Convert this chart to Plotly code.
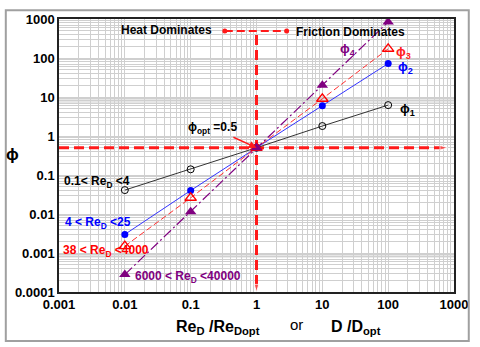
import numpy as np
import plotly.graph_objects as go

# ---------------- data ----------------
x_ratio = [0.01, 0.1, 1, 10, 100]
phi1 = [0.041, 0.14, 0.5, 1.8, 6.2]
phi2 = [0.003, 0.04, 0.5, 6.0, 72]
phi3 = [0.0015, 0.026, 0.5, 9.0, 172]
phi4 = [0.00028, 0.0115, 0.5, 20, 840]

x_ticks = [0.001, 0.01, 0.1, 1, 10, 100, 1000]
x_ticklabels = ["0.001", "0.01", "0.1", "1", "10", "100", "1000"]
y_ticks = [0.0001, 0.001, 0.01, 0.1, 1, 10, 100, 1000]
y_ticklabels = ["0.0001", "0.001", "0.01", "0.1", "1", "10", "100", "1000"]

phi_opt = 0.5
ref_h_x = [0.001, 800]
ref_v_y = [0.0001, 390]
top_bar_x = [0.33, 2.87]
top_bar_y = 495

# ---------------- geometry helpers ----------------
W, H = 480, 347
L, R, T, B = 59, 20, 14, 55
PW, PH = W - L - R, H - T - B


def px(xp):
    return (xp - L) / PW


def py(yp):
    return (H - B - yp) / PH


def all_grid(lo, hi):
    vals = []
    for e in range(lo, hi):
        for m in range(1, 10):
            vals.append(m * 10.0 ** e)
    vals.append(10.0 ** hi)
    return vals


xgrid = all_grid(-3, 3)
ygrid = all_grid(-4, 3)


def labels(grid, ticks, texts):
    out = []
    for g in grid:
        lab = ""
        for t, s in zip(ticks, texts):
            if abs(np.log10(g) - np.log10(t)) < 1e-6:
                lab = s
        out.append(lab)
    return out


fig = go.Figure()

RED = "#ff1a1a"

# red reference lines
fig.add_trace(go.Scatter(x=ref_h_x, y=[phi_opt, phi_opt], mode="lines+markers",
                         line=dict(color=RED, width=3, dash="10px,5px"),
                         marker=dict(symbol=["circle", "arrow"], size=[6, 8], angleref="previous", color=RED),
                         hoverinfo="skip", showlegend=False))
fig.add_trace(go.Scatter(x=[1, 1], y=[ref_v_y[1], ref_v_y[0]], mode="lines+markers",
                         line=dict(color=RED, width=3, dash="10px,5px"),
                         marker=dict(symbol=["circle", "arrow"], size=[5, 8], angleref="previous", color=RED),
                         hoverinfo="skip", showlegend=False))
fig.add_trace(go.Scatter(x=top_bar_x, y=[top_bar_y, top_bar_y], mode="lines+markers",
                         line=dict(color=RED, width=2, dash="8px,4px"),
                         marker=dict(symbol="circle", size=5, color=RED),
                         hoverinfo="skip", showlegend=False))

# series
fig.add_trace(go.Scatter(x=x_ratio, y=phi1, mode="lines+markers",
                         line=dict(color="#333333", width=1),
                         marker=dict(symbol="circle-open", size=7, color="black", line=dict(width=1)),
                         showlegend=False))
fig.add_trace(go.Scatter(x=x_ratio, y=phi2, mode="lines+markers",
                         line=dict(color="#3333ff", width=1),
                         marker=dict(symbol="circle", size=7, color="#0000ff"),
                         showlegend=False))
fig.add_trace(go.Scatter(x=x_ratio, y=phi3, mode="lines+markers",
                         line=dict(color="#ff3030", width=1, dash="6px,3px"),
                         marker=dict(symbol="triangle-up-open", size=10, angle=0, color="#ff0000",
                                     line=dict(width=1.4)),
                         showlegend=False))
fig.add_trace(go.Scatter(x=x_ratio, y=phi4, mode="lines+markers",
                         line=dict(color="#800080", width=1.2, dash="10px,3px,2px,3px"),
                         marker=dict(symbol="triangle-up", size=10, angle=0, color="#800080"),
                         showlegend=False))

FONT = "Liberation Sans, Arial, sans-serif"

ann = []


def txt(text, xp, yp, color="black", size=12):
    ann.append(dict(text=text, x=px(xp), y=py(yp), xref="paper", yref="paper",
                    showarrow=False, font=dict(family=FONT, size=size, color=color),
                    xanchor="center", yanchor="middle"))


txt("<b>Heat Dominates</b>", 168, 25)
txt("<b>Friction Dominates</b>", 355, 27)
txt("<b>0.1&lt; Re<sub>D</sub> &lt;4</b>", 98, 180)
txt("<b>4 &lt; Re<sub>D</sub> &lt;25</b>", 99, 222, color="#0000ff")
txt("<b>38 &lt; Re<sub>D</sub> &lt;4000</b>", 107, 250, color="#ff0000")
txt("<b>6000 &lt; Re<sub>D</sub> &lt;40000</b>", 190, 277, color="#800080")
txt("<b>ϕ<sub>4</sub></b>", 352, 45, color="#800080", size=13)
txt("<b>ϕ<sub>3</sub></b>", 409, 48, color="#ff2020", size=13)
txt("<b>ϕ<sub>2</sub></b>", 411, 63, color="#0000ff", size=13)
txt("<b>ϕ<sub>1</sub></b>", 413, 106, color="black", size=13)
txt("<b>ϕ</b>", 12, 152, size=17)
txt("<b>Re<sub>D</sub> /Re<sub>Dopt</sub></b>", 220, 328, size=16)
txt("or", 300, 325, size=15)
txt("<b>D /D<sub>opt</sub></b>", 361, 328, size=16)

ann.append(dict(text="<b>ϕ<sub>opt</sub> =0.5</b>", x=0, y=np.log10(phi_opt), xref="x", yref="y",
                showarrow=True, ax=-44, ay=-20, arrowcolor=RED, arrowwidth=1.5, arrowhead=2,
                arrowsize=1, font=dict(family=FONT, size=12, color="black")))

shapes = [
    dict(type="rect", xref="paper", yref="y", x0=0, x1=1, y0=6.8, y1=10,
         fillcolor="rgba(200,200,200,0.45)", line=dict(width=0), layer="below"),
    dict(type="rect", xref="paper", yref="y", x0=0, x1=1, y0=0.00075, y1=0.001,
         fillcolor="rgba(200,200,200,0.45)", line=dict(width=0), layer="below"),
    dict(type="rect", xref="paper", yref="paper", x0=px(5), x1=px(475), y0=py(342), y1=py(5),
         fillcolor="rgba(0,0,0,0)", line=dict(color="#a0a0a0", width=2)),
]

fig.update_layout(
    width=W, height=H,
    margin=dict(l=L, r=R, t=T, b=B),
    paper_bgcolor="white", plot_bgcolor="white",
    font=dict(family=FONT, color="black"),
    annotations=ann, shapes=shapes,
    xaxis=dict(type="log", range=[-3, 3], tickmode="array", tickvals=xgrid,
               ticktext=labels(xgrid, x_ticks, x_ticklabels),
               showgrid=True, gridcolor="#cfcfcf", gridwidth=1,
               showline=True, linecolor="#222222", linewidth=1.5, mirror=True,
               ticks="", tickfont=dict(family=FONT, size=13, color="black", weight="bold"),
               zeroline=False),
    yaxis=dict(type="log", range=[-4, 3], tickmode="array", tickvals=ygrid,
               ticktext=labels(ygrid, y_ticks, y_ticklabels),
               showgrid=True, gridcolor="#cfcfcf", gridwidth=1,
               showline=True, linecolor="#222222", linewidth=1.5, mirror=True,
               ticks="", tickfont=dict(family=FONT, size=13, color="black", weight="bold"),
               zeroline=False),
)

fig.write_html("out.html", config={"displayModeBar": False},
               post_script="document.body.style.margin='0px';")
